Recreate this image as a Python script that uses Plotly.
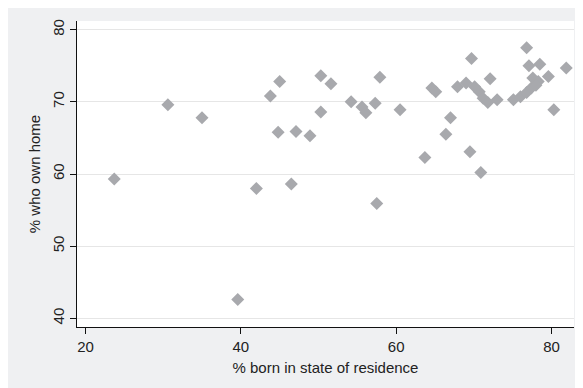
import plotly.graph_objects as go

# % born in state of residence
born_in_state = [
    23.7, 30.6, 35.0, 39.6, 42.0, 43.8, 45.0, 44.8, 47.1, 46.5,
    48.9, 50.3, 50.3, 51.6, 54.2, 55.6, 56.1, 57.3, 57.9, 57.5,
    60.5, 63.7, 64.6, 65.1, 66.4, 67.0, 67.9, 69.0, 69.7, 69.5,
    70.9, 70.1, 70.7, 71.2, 71.8, 72.1, 73.0, 75.1, 76.0, 76.8,
    77.4, 76.8, 77.1, 78.5, 77.6, 78.3, 79.6, 80.3, 81.9, 78.0,
]
# % who own home
own_home = [
    59.3, 69.6, 67.8, 42.6, 58.0, 70.8, 72.8, 65.8, 65.9, 58.6,
    65.3, 73.6, 68.6, 72.5, 70.0, 69.3, 68.5, 69.8, 73.4, 55.9,
    68.9, 62.3, 71.9, 71.4, 65.5, 67.8, 72.1, 72.6, 76.0, 63.1,
    60.2, 72.1, 71.4, 70.5, 69.9, 73.2, 70.3, 70.3, 70.7, 71.3,
    71.9, 77.5, 75.0, 75.2, 73.3, 72.8, 73.5, 68.9, 74.7, 72.3,
]
x_ticks = [20, 40, 60, 80]
y_ticks = [40, 50, 60, 70, 80]

FONT = "Liberation Sans, Arial, Helvetica, sans-serif"

fig = go.Figure()
fig.add_trace(go.Scatter(
    x=born_in_state, y=own_home, mode="markers",
    marker=dict(symbol="diamond", size=10, color="#a8a9ad", line=dict(width=0)),
    showlegend=False, hoverinfo="x+y",
))

fig.update_layout(
    width=575, height=380,
    margin=dict(l=69, r=9, t=13, b=61, pad=0, autoexpand=False),
    paper_bgcolor="#eff0f2",
    plot_bgcolor="white",
    font=dict(family=FONT, size=15, color="#222222"),
    xaxis=dict(
        range=[18.9, 82.9], tickvals=x_ticks, ticktext=[str(v) for v in x_ticks],
        showgrid=False, zeroline=False, automargin=False,
        showline=True, linecolor="#111111", linewidth=1,
        ticks="outside", ticklen=6, tickcolor="#111111", tickwidth=1,
        tickfont=dict(size=15, color="#222222"),
        title=dict(text="% born in state of residence", font=dict(size=15, color="#222222"), standoff=8),
    ),
    yaxis=dict(
        range=[38.8, 81.2], tickvals=y_ticks, ticktext=[str(v) for v in y_ticks],
        showgrid=True, gridcolor="#e6e6e6", gridwidth=1, zeroline=False, automargin=False,
        showline=True, linecolor="#111111", linewidth=1,
        ticks="outside", ticklen=6, tickcolor="#111111", tickwidth=1,
        tickangle=-90,
        tickfont=dict(size=15, color="#222222"),
        title=dict(text="% who own home", font=dict(size=15, color="#222222"), standoff=5),
    ),
)

fig.write_html("out.html")
